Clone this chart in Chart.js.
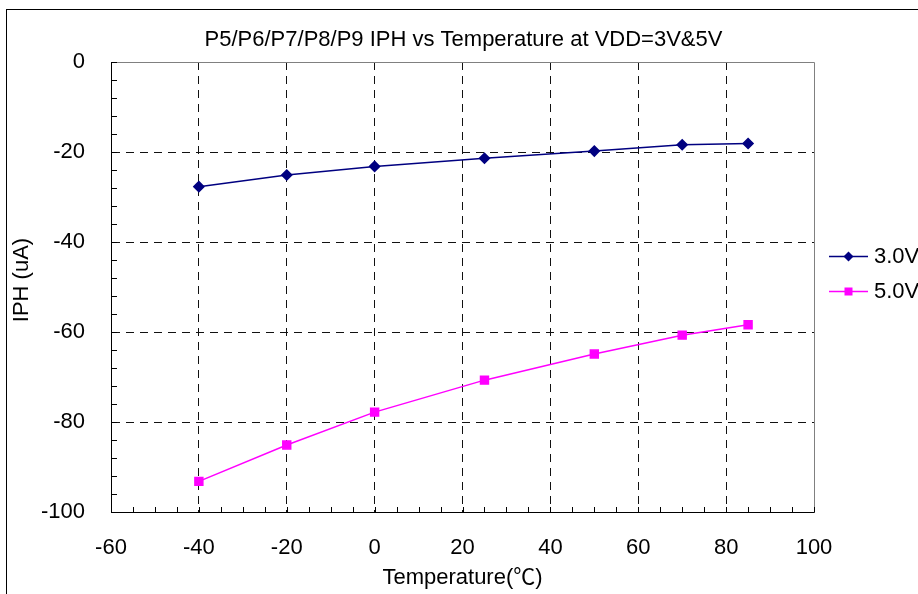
<!DOCTYPE html>
<html>
<head>
<meta charset="utf-8">
<script src="https://cdn.jsdelivr.net/npm/chart.js@4.4.1/dist/chart.umd.min.js"></script>
<style>
  html, body { margin: 0; padding: 0; background: #fff; }
  #wrap { width: 918px; height: 594px; }
</style>
</head>
<body>
<div id="wrap"><canvas id="c" width="918" height="594"></canvas></div>
<script>
const chartTitle = 'P5/P6/P7/P8/P9 IPH vs Temperature at VDD=3V&5V';
const xTitle = 'Temperature(℃)';
const yTitle = 'IPH (uA)';
const temperatures = [-40, -20, 0, 25, 50, 70, 85];
const seriesNames = ['3.0V', '5.0V'];
const iph3V = [-27.7, -25.1, -23.2, -21.4, -19.8, -18.4, -18.1];
const iph5V = [-93.2, -85.1, -77.8, -70.7, -64.9, -60.7, -58.4];
const xRange = [-60, 100];
const yRange = [-100, 0];

const FONT = "'Liberation Sans', Arial, 'Noto Sans CJK SC', sans-serif";
const colors = ['#000080', '#FF00FF'];
const styles = ['rectRot', 'rect'];

function toPoints(xs, ys) { return xs.map((x, i) => ({ x: x, y: ys[i] })); }

const extras = {
  id: 'extras',
  beforeDatasetsDraw(chart) {
    const { ctx, chartArea: a, scales } = chart;
    ctx.save();
    // plot area top and right border (gray)
    ctx.strokeStyle = '#808080';
    ctx.lineWidth = 1;
    ctx.beginPath();
    ctx.moveTo(Math.round(a.left) + 0.5, Math.round(a.top) + 0.5);
    ctx.lineTo(Math.round(a.right) + 0.5, Math.round(a.top) + 0.5);
    ctx.lineTo(Math.round(a.right) + 0.5, Math.round(a.bottom) + 0.5);
    ctx.stroke();
    // minor ticks
    ctx.strokeStyle = '#000';
    ctx.beginPath();
    for (let v = xRange[0]; v <= xRange[1]; v += 5) {
      const px = Math.round(scales.x.getPixelForValue(v)) + 0.5;
      ctx.moveTo(px, a.bottom);
      ctx.lineTo(px, a.bottom - 5);
    }
    for (let v = yRange[0]; v <= yRange[1]; v += 4) {
      const py = Math.round(scales.y.getPixelForValue(v)) + 0.5;
      ctx.moveTo(a.left, py);
      ctx.lineTo(a.left + 6, py);
    }
    ctx.stroke();
    ctx.restore();
  },
  afterDraw(chart) {
    const { ctx, chartArea: a } = chart;
    ctx.save();
    // outer frame
    ctx.strokeStyle = '#000';
    ctx.lineWidth = 1;
    ctx.strokeRect(6.5, 9.5, 2000, 2000);
    // title
    ctx.fillStyle = '#000';
    ctx.font = '22px ' + FONT;
    ctx.textAlign = 'center';
    ctx.textBaseline = 'middle';
    ctx.fillText(chartTitle, (a.left + a.right) / 2 + 1, 40);
    // y axis title
    ctx.save();
    ctx.translate(22, 280);
    ctx.rotate(-Math.PI / 2);
    ctx.fillText(yTitle, 0, 0);
    ctx.restore();
    // legend
    const rows = [256, 291];
    chart.data.datasets.forEach((ds, i) => {
      const y = rows[i] + 0.5;
      const x0 = a.right + 15, x1 = a.right + 54, xm = a.right + 34.5;
      ctx.strokeStyle = ds.borderColor;
      ctx.lineWidth = 1.5;
      ctx.beginPath(); ctx.moveTo(x0, y); ctx.lineTo(x1, y); ctx.stroke();
      ctx.fillStyle = ds.borderColor;
      ctx.beginPath();
      if (ds.pointStyle === 'rectRot') {
        ctx.moveTo(xm - 5, y); ctx.lineTo(xm, y - 5); ctx.lineTo(xm + 5, y); ctx.lineTo(xm, y + 5); ctx.closePath();
      } else {
        ctx.rect(xm - 4, y - 4, 8, 8);
      }
      ctx.fill();
      ctx.fillStyle = '#000';
      ctx.font = '22px ' + FONT;
      ctx.textAlign = 'left';
      ctx.textBaseline = 'middle';
      ctx.fillText(ds.label, a.right + 60, rows[i] + 1);
    });
    ctx.restore();
  }
};

new Chart(document.getElementById('c'), {
  type: 'line',
  data: {
    datasets: [
      { label: seriesNames[0], data: toPoints(temperatures, iph3V), borderColor: colors[0], backgroundColor: colors[0],
        pointStyle: styles[0], pointRadius: 5, borderWidth: 1.5, tension: 0, fill: false },
      { label: seriesNames[1], data: toPoints(temperatures, iph5V), borderColor: colors[1], backgroundColor: colors[1],
        pointStyle: styles[1], pointRadius: 5.6, borderWidth: 1.5, tension: 0, fill: false }
    ]
  },
  options: {
    responsive: false,
    animation: false,
    devicePixelRatio: 1,
    layout: { padding: { top: 62, right: 104, left: 0, bottom: 0 } },
    plugins: { legend: { display: false }, title: { display: false }, tooltip: { enabled: false } },
    elements: { point: { borderWidth: 0 } },
    scales: {
      x: {
        type: 'linear', min: xRange[0], max: xRange[1],
        afterFit(s) { s.height = 82; },
        ticks: { stepSize: 20, color: '#000', font: { family: FONT, size: 22 }, padding: 23, maxRotation: 0, autoSkip: false },
        grid: {
          drawTicks: false,
          color: (c) => (c.tick && (c.tick.value === xRange[0] || c.tick.value === xRange[1])) ? 'rgba(0,0,0,0)' : '#111',
          lineWidth: 1
        },
        border: { display: true, color: '#000', width: 1, dash: [8, 6] },
        title: { display: true, text: xTitle, color: '#000', font: { family: FONT, size: 22 }, padding: { top: 0, bottom: 3 } }
      },
      y: {
        type: 'linear', min: yRange[0], max: yRange[1],
        afterFit(s) { s.width = 111; },
        ticks: { stepSize: 20, color: '#000', font: { family: FONT, size: 22 }, padding: 26 },
        grid: {
          drawTicks: false,
          color: (c) => (c.tick && (c.tick.value === yRange[0] || c.tick.value === yRange[1])) ? 'rgba(0,0,0,0)' : '#111',
          lineWidth: 1
        },
        border: { display: true, color: '#000', width: 1, dash: [8, 6] },
        title: { display: false }
      }
    }
  },
  plugins: [extras]
});
</script>
</body>
</html>
